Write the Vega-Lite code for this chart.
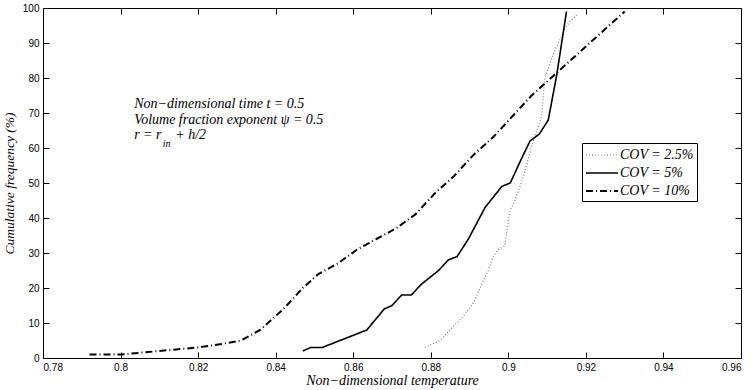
{
  "$schema": "https://vega.github.io/schema/vega-lite/v6.json",
  "width": 698,
  "height": 350,
  "autosize": {"type": "none"},
  "padding": {"left": 43, "top": 8, "right": 10, "bottom": 32},
  "background": "white",
  "config": {
    "view": {"stroke": "black", "strokeWidth": 1},
    "axis": {
      "domain": false,
      "grid": false,
      "ticks": true,
      "tickColor": "black",
      "tickSize": -6,
      "labelFont": "Liberation Sans",
      "labelFontSize": 10,
      "labelColor": "black",
      "labelPadding": 10,
      "titleFont": "Liberation Serif",
      "titleFontStyle": "italic",
      "titleFontWeight": "normal",
      "titleFontSize": 14,
      "titleColor": "black"
    },
    "legend": {
      "title": null,
      "symbolType": "M-2,0H2",
      "symbolSize": 256,
      "symbolOffset": 8,
      "labelFont": "Liberation Serif",
      "labelFontStyle": "italic",
      "labelFontSize": 14,
      "labelColor": "black",
      "strokeColor": "black",
      "fillColor": "white",
      "padding": 3,
      "rowPadding": 2,
      "labelOffset": 9
    }
  },
  "datasets": {
    "curves": [
      {"series": "COV = 2.5%", "x": 0.8785, "y": 3},
      {"series": "COV = 2.5%", "x": 0.8824, "y": 5},
      {"series": "COV = 2.5%", "x": 0.8858, "y": 9},
      {"series": "COV = 2.5%", "x": 0.8885, "y": 12},
      {"series": "COV = 2.5%", "x": 0.8914, "y": 16.5},
      {"series": "COV = 2.5%", "x": 0.8927, "y": 20},
      {"series": "COV = 2.5%", "x": 0.8948, "y": 25},
      {"series": "COV = 2.5%", "x": 0.8961, "y": 29},
      {"series": "COV = 2.5%", "x": 0.8974, "y": 31},
      {"series": "COV = 2.5%", "x": 0.8991, "y": 32},
      {"series": "COV = 2.5%", "x": 0.8997, "y": 37},
      {"series": "COV = 2.5%", "x": 0.9004, "y": 42},
      {"series": "COV = 2.5%", "x": 0.9017, "y": 45},
      {"series": "COV = 2.5%", "x": 0.903, "y": 49},
      {"series": "COV = 2.5%", "x": 0.9039, "y": 52},
      {"series": "COV = 2.5%", "x": 0.9064, "y": 62},
      {"series": "COV = 2.5%", "x": 0.9086, "y": 69},
      {"series": "COV = 2.5%", "x": 0.9094, "y": 80},
      {"series": "COV = 2.5%", "x": 0.912, "y": 88},
      {"series": "COV = 2.5%", "x": 0.9129, "y": 90},
      {"series": "COV = 2.5%", "x": 0.915, "y": 95},
      {"series": "COV = 2.5%", "x": 0.9176, "y": 98},
      {"series": "COV = 5%", "x": 0.847, "y": 2},
      {"series": "COV = 5%", "x": 0.849, "y": 3},
      {"series": "COV = 5%", "x": 0.852, "y": 3},
      {"series": "COV = 5%", "x": 0.8635, "y": 8},
      {"series": "COV = 5%", "x": 0.868, "y": 14},
      {"series": "COV = 5%", "x": 0.870, "y": 15},
      {"series": "COV = 5%", "x": 0.8725, "y": 18},
      {"series": "COV = 5%", "x": 0.875, "y": 18},
      {"series": "COV = 5%", "x": 0.8775, "y": 21},
      {"series": "COV = 5%", "x": 0.882, "y": 25},
      {"series": "COV = 5%", "x": 0.8845, "y": 28},
      {"series": "COV = 5%", "x": 0.8868, "y": 29},
      {"series": "COV = 5%", "x": 0.8897, "y": 34},
      {"series": "COV = 5%", "x": 0.894, "y": 43},
      {"series": "COV = 5%", "x": 0.8983, "y": 49},
      {"series": "COV = 5%", "x": 0.9005, "y": 50},
      {"series": "COV = 5%", "x": 0.9034, "y": 57},
      {"series": "COV = 5%", "x": 0.9056, "y": 62},
      {"series": "COV = 5%", "x": 0.908, "y": 64},
      {"series": "COV = 5%", "x": 0.9103, "y": 68},
      {"series": "COV = 5%", "x": 0.9125, "y": 81},
      {"series": "COV = 5%", "x": 0.915, "y": 99},
      {"series": "COV = 10%", "x": 0.792, "y": 1},
      {"series": "COV = 10%", "x": 0.800, "y": 1},
      {"series": "COV = 10%", "x": 0.810, "y": 2},
      {"series": "COV = 10%", "x": 0.820, "y": 3},
      {"series": "COV = 10%", "x": 0.826, "y": 4},
      {"series": "COV = 10%", "x": 0.831, "y": 5},
      {"series": "COV = 10%", "x": 0.836, "y": 8},
      {"series": "COV = 10%", "x": 0.842, "y": 14},
      {"series": "COV = 10%", "x": 0.847, "y": 20},
      {"series": "COV = 10%", "x": 0.851, "y": 24},
      {"series": "COV = 10%", "x": 0.856, "y": 27},
      {"series": "COV = 10%", "x": 0.861, "y": 31},
      {"series": "COV = 10%", "x": 0.866, "y": 34},
      {"series": "COV = 10%", "x": 0.871, "y": 37},
      {"series": "COV = 10%", "x": 0.876, "y": 41},
      {"series": "COV = 10%", "x": 0.881, "y": 47},
      {"series": "COV = 10%", "x": 0.886, "y": 52},
      {"series": "COV = 10%", "x": 0.891, "y": 58},
      {"series": "COV = 10%", "x": 0.896, "y": 63},
      {"series": "COV = 10%", "x": 0.901, "y": 69},
      {"series": "COV = 10%", "x": 0.906, "y": 75},
      {"series": "COV = 10%", "x": 0.911, "y": 80},
      {"series": "COV = 10%", "x": 0.916, "y": 85},
      {"series": "COV = 10%", "x": 0.921, "y": 90},
      {"series": "COV = 10%", "x": 0.926, "y": 95},
      {"series": "COV = 10%", "x": 0.930, "y": 99}
    ]
  },
  "layer": [
    {
      "data": {"name": "curves"},
      "mark": {"type": "line"},
      "encoding": {
        "x": {
          "field": "x", "type": "quantitative",
          "scale": {"domain": [0.78, 0.96], "nice": false, "zero": false},
          "axis": {"orient": "bottom", "values": [0.78, 0.8, 0.82, 0.84, 0.86, 0.88, 0.9, 0.92, 0.94, 0.96], "format": "~g", "title": "Non−dimensional temperature", "titlePadding": 1}
        },
        "y": {
          "field": "y", "type": "quantitative",
          "scale": {"domain": [0, 100], "nice": false, "zero": true},
          "axis": {"orient": "left", "values": [0, 10, 20, 30, 40, 50, 60, 70, 80, 90, 100], "title": "Cumulative frequency (%)", "titlePadding": 6, "titleFontSize": 13.5}
        },
        "color": {
          "field": "series", "type": "nominal",
          "scale": {"domain": ["COV = 2.5%", "COV = 5%", "COV = 10%"], "range": ["#808080", "#000000", "#000000"]},
          "legend": {"orient": "none", "legendX": 539, "legendY": 135}
        },
        "strokeDash": {
          "field": "series", "type": "nominal",
          "scale": {"domain": ["COV = 2.5%", "COV = 5%", "COV = 10%"], "range": [[1, 2], [1, 0], [7, 3, 1, 3]]},
          "legend": {"orient": "none", "legendX": 539, "legendY": 135}
        },
        "strokeWidth": {
          "field": "series", "type": "nominal",
          "scale": {"domain": ["COV = 2.5%", "COV = 5%", "COV = 10%"], "range": [1.2, 2, 2]},
          "legend": {"orient": "none", "legendX": 539, "legendY": 135}
        }
      }
    },
    {
      "data": {"name": "curves"},
      "mark": {"type": "point", "opacity": 0},
      "encoding": {
        "x": {
          "field": "x", "type": "quantitative",
          "scale": {"domain": [0.78, 0.96], "nice": false, "zero": false},
          "axis": {"orient": "top", "values": [0.78, 0.8, 0.82, 0.84, 0.86, 0.88, 0.9, 0.92, 0.94, 0.96], "labels": false, "title": null}
        },
        "y": {
          "field": "y", "type": "quantitative",
          "scale": {"domain": [0, 100], "nice": false, "zero": true},
          "axis": {"orient": "right", "values": [0, 10, 20, 30, 40, 50, 60, 70, 80, 90, 100], "labels": false, "title": null}
        }
      }
    },
    {
      "data": {"values": [{"note": ["Non−dimensional time t = 0.5", "Volume fraction exponent ψ = 0.5"]}]},
      "mark": {"type": "text", "align": "left", "baseline": "middle", "font": "Liberation Serif", "fontStyle": "italic", "fontSize": 14, "lineHeight": 16.5, "color": "black"},
      "encoding": {
        "x": {"datum": 0.8035, "type": "quantitative", "axis": null},
        "y": {"datum": 72.6, "type": "quantitative", "axis": null},
        "text": {"field": "note"}
      }
    },
    {
      "data": {"values": [{"note": "r = r"}]},
      "mark": {"type": "text", "align": "left", "baseline": "middle", "font": "Liberation Serif", "fontStyle": "italic", "fontSize": 14, "color": "black"},
      "encoding": {
        "x": {"datum": 0.8035, "type": "quantitative", "axis": null},
        "y": {"datum": 63.6, "type": "quantitative", "axis": null},
        "text": {"field": "note"}
      }
    },
    {
      "data": {"values": [{"note": "in"}]},
      "mark": {"type": "text", "align": "left", "baseline": "middle", "font": "Liberation Serif", "fontStyle": "italic", "fontSize": 10, "color": "black"},
      "encoding": {
        "x": {"datum": 0.8109, "type": "quantitative", "axis": null},
        "y": {"datum": 61.2, "type": "quantitative", "axis": null},
        "text": {"field": "note"}
      }
    },
    {
      "data": {"values": [{"note": "+ h/2"}]},
      "mark": {"type": "text", "align": "left", "baseline": "middle", "font": "Liberation Serif", "fontStyle": "italic", "fontSize": 14, "color": "black"},
      "encoding": {
        "x": {"datum": 0.8141, "type": "quantitative", "axis": null},
        "y": {"datum": 63.6, "type": "quantitative", "axis": null},
        "text": {"field": "note"}
      }
    }
  ],
  "resolve": {"axis": {"x": "independent", "y": "independent"}}
}
